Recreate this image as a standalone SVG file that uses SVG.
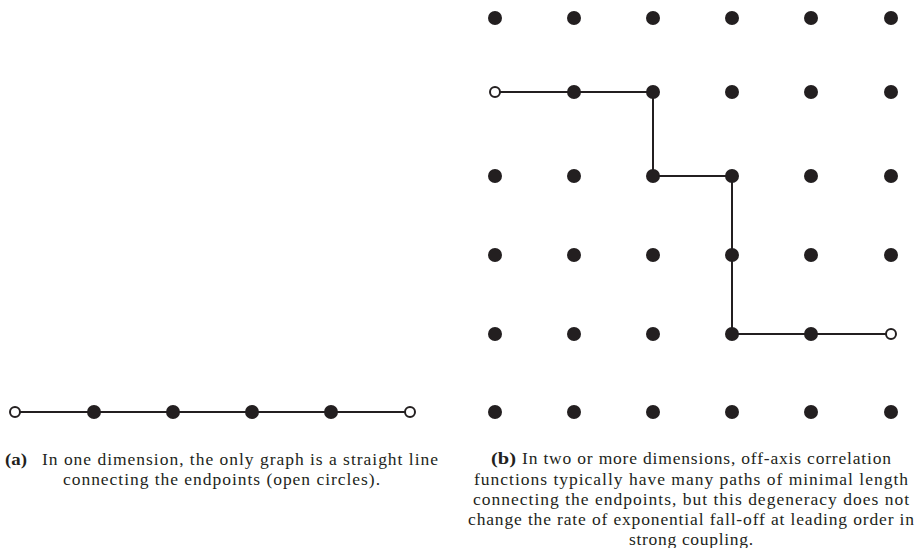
<svg xmlns="http://www.w3.org/2000/svg" width="917" height="548" viewBox="0 0 917 548">
<style>
.dot{fill:#231f20}
.open{fill:#fff;stroke:#231f20;stroke-width:2}
.edge{fill:none;stroke:#231f20;stroke-width:2}
.cap{font-family:"Liberation Serif","Times New Roman",serif;font-size:17.5px;fill:#231f20}
.lab{font-weight:bold}
</style>
<rect width="917" height="548" fill="#fff"/>
<g id="connectors">
<line class="edge" x1="15" y1="412" x2="410" y2="412"/>
<polyline class="edge" points="495,92 653,92 653,176 732,176 732,334 891,334"/>
</g>
<g id="line1d">
<g id="a0"><circle class="open" cx="15" cy="412" r="5"/></g>
<g id="a1"><circle class="dot" cx="94" cy="412" r="7"/></g>
<g id="a2"><circle class="dot" cx="173" cy="412" r="7"/></g>
<g id="a3"><circle class="dot" cx="252" cy="412" r="7"/></g>
<g id="a4"><circle class="dot" cx="331" cy="412" r="7"/></g>
<g id="a5"><circle class="open" cx="410" cy="412" r="5"/></g>
</g>
<g id="grid">
<g id="n00"><circle class="dot" cx="495" cy="18" r="7"/></g>
<g id="n01"><circle class="dot" cx="574" cy="18" r="7"/></g>
<g id="n02"><circle class="dot" cx="653" cy="18" r="7"/></g>
<g id="n03"><circle class="dot" cx="732" cy="18" r="7"/></g>
<g id="n04"><circle class="dot" cx="811" cy="18" r="7"/></g>
<g id="n05"><circle class="dot" cx="891" cy="18" r="7"/></g>
<g id="n10"><circle class="open" cx="495" cy="92" r="5"/></g>
<g id="n11"><circle class="dot" cx="574" cy="92" r="7"/></g>
<g id="n12"><circle class="dot" cx="653" cy="92" r="7"/></g>
<g id="n13"><circle class="dot" cx="732" cy="92" r="7"/></g>
<g id="n14"><circle class="dot" cx="811" cy="92" r="7"/></g>
<g id="n15"><circle class="dot" cx="891" cy="92" r="7"/></g>
<g id="n20"><circle class="dot" cx="495" cy="176" r="7"/></g>
<g id="n21"><circle class="dot" cx="574" cy="176" r="7"/></g>
<g id="n22"><circle class="dot" cx="653" cy="176" r="7"/></g>
<g id="n23"><circle class="dot" cx="732" cy="176" r="7"/></g>
<g id="n24"><circle class="dot" cx="811" cy="176" r="7"/></g>
<g id="n25"><circle class="dot" cx="891" cy="176" r="7"/></g>
<g id="n30"><circle class="dot" cx="495" cy="255" r="7"/></g>
<g id="n31"><circle class="dot" cx="574" cy="255" r="7"/></g>
<g id="n32"><circle class="dot" cx="653" cy="255" r="7"/></g>
<g id="n33"><circle class="dot" cx="732" cy="255" r="7"/></g>
<g id="n34"><circle class="dot" cx="811" cy="255" r="7"/></g>
<g id="n35"><circle class="dot" cx="891" cy="255" r="7"/></g>
<g id="n40"><circle class="dot" cx="495" cy="334" r="7"/></g>
<g id="n41"><circle class="dot" cx="574" cy="334" r="7"/></g>
<g id="n42"><circle class="dot" cx="653" cy="334" r="7"/></g>
<g id="n43"><circle class="dot" cx="732" cy="334" r="7"/></g>
<g id="n44"><circle class="dot" cx="811" cy="334" r="7"/></g>
<g id="n45"><circle class="open" cx="891" cy="334" r="5"/></g>
<g id="n50"><circle class="dot" cx="495" cy="412" r="7"/></g>
<g id="n51"><circle class="dot" cx="574" cy="412" r="7"/></g>
<g id="n52"><circle class="dot" cx="653" cy="412" r="7"/></g>
<g id="n53"><circle class="dot" cx="732" cy="412" r="7"/></g>
<g id="n54"><circle class="dot" cx="811" cy="412" r="7"/></g>
<g id="n55"><circle class="dot" cx="891" cy="412" r="7"/></g>
</g>
<g id="caption-a" class="cap">
<text class="lab" x="5" y="465" textLength="22" lengthAdjust="spacingAndGlyphs">(a)</text>
<text x="42" y="465" textLength="396" lengthAdjust="spacing">In one dimension, the only graph is a straight line</text>
<text x="63" y="485" textLength="317" lengthAdjust="spacing">connecting the endpoints (open circles).</text>
</g>
<g id="caption-b" class="cap">
<text class="lab" x="491" y="464" textLength="25" lengthAdjust="spacingAndGlyphs">(b)</text>
<text x="522" y="464" textLength="369" lengthAdjust="spacing">In two or more dimensions, off-axis correlation</text>
<text x="474" y="485" textLength="434" lengthAdjust="spacing">functions typically have many paths of minimal length</text>
<text x="473" y="505" textLength="436" lengthAdjust="spacing">connecting the endpoints, but this degeneracy does not</text>
<text x="468" y="525" textLength="446" lengthAdjust="spacing">change the rate of exponential fall-off at leading order in</text>
<text x="629" y="545" textLength="124" lengthAdjust="spacing">strong coupling.</text>
</g>
</svg>
